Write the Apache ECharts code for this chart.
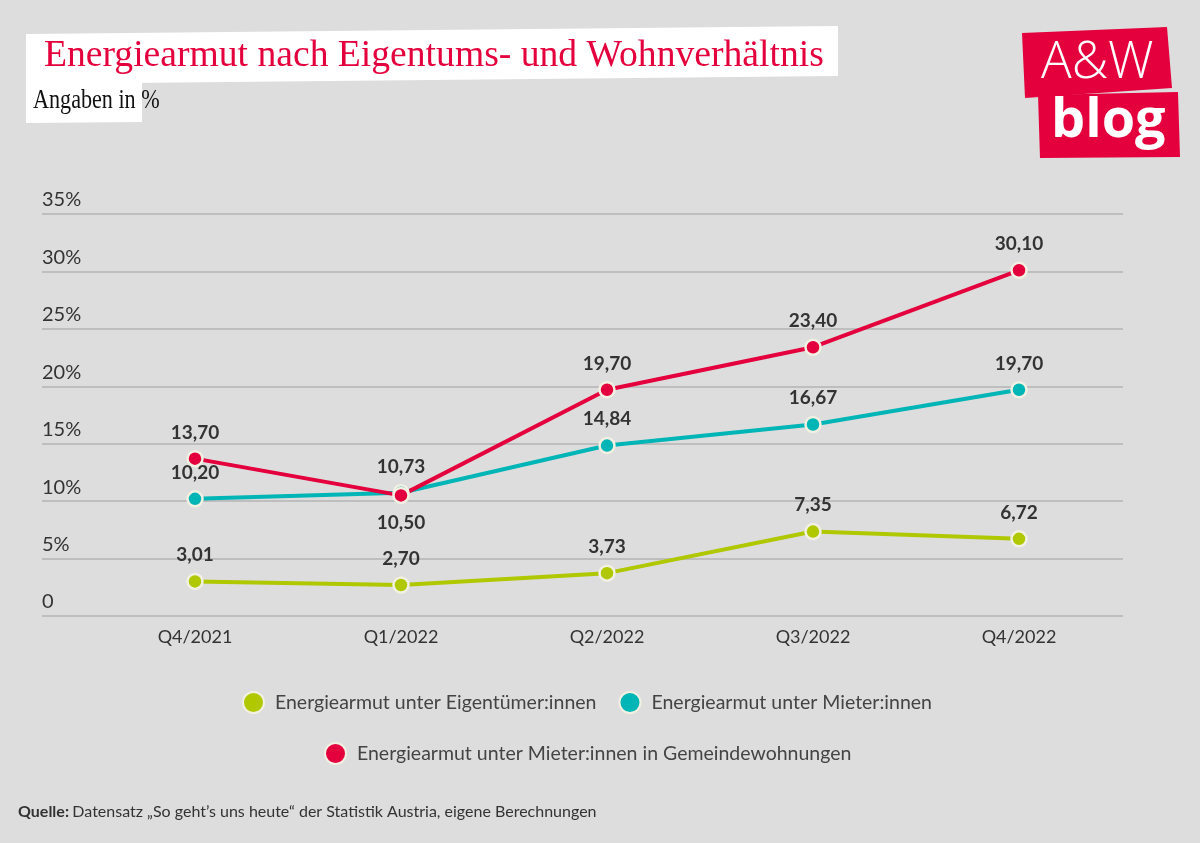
<!DOCTYPE html>
<html><head><meta charset="utf-8">
<script src="https://cdn.jsdelivr.net/npm/echarts@6/dist/echarts.min.js"></script>
<style>html,body{margin:0;padding:0;background:#dddddd}#c{width:1200px;height:843px}</style>
</head><body><div id="c"></div>
<script>
const categories = ['Q4/2021','Q1/2022','Q2/2022','Q3/2022','Q4/2022'];
const eigentuemer = [3.01, 2.70, 3.73, 7.35, 6.72];
const mieter = [10.20, 10.73, 14.84, 16.67, 19.70];
const gemeinde = [13.70, 10.50, 19.70, 23.40, 30.10];
const seriesNames = ['Energiearmut unter Eigentümer:innen','Energiearmut unter Mieter:innen','Energiearmut unter Mieter:innen in Gemeindewohnungen'];
const colors = ['#afc800','#00b5b5','#e4003c'];
const yTicks = {min:0, max:35, interval:5};

const fnt = 'Lato';
const chart = echarts.init(document.getElementById('c'), null, {renderer:'canvas'});
function fmt(v){return v.toFixed(2).replace('.',',');}
function mkSeries(name, data, color, belowIdx){
  return {
    name, type:'line', xAxisIndex:1, yAxisIndex:1,
    symbol:'circle', symbolSize:15, showSymbol:true,
    lineStyle:{color, width:4},
    itemStyle:{color, borderColor:'#f2f0e2', borderWidth:2.5},
    label:{show:true, position:'top', distance:8, fontFamily:fnt, fontWeight:'bold', fontSize:19, color:'#333',
      formatter:p=>fmt(p.value)},
    data: data.map((v,i)=> belowIdx===i ? {value:v, label:{position:'bottom', distance:9}} : v),
    z: 3
  };
}
const legendText = {fontFamily:fnt, fontSize:19.5, color:'#444', padding:[0,0,0,6]};
const option = {
  backgroundColor:'#dddddd',
  animation:false,
  grid:[
    {left:42, right:77, top:214, height:402, containLabel:false},
    {left:92, right:78, top:214, height:402, containLabel:false}
  ],
  xAxis:[
    {gridIndex:0, type:'value', show:false, min:0, max:1},
    {gridIndex:1, type:'category', data:categories, boundaryGap:true,
     axisLine:{show:false}, axisTick:{show:false},
     axisLabel:{fontFamily:fnt, fontSize:18, color:'#333', margin:12}}
  ],
  yAxis:[
    {gridIndex:0, type:'value', min:yTicks.min, max:yTicks.max, interval:yTicks.interval,
     axisLine:{show:false}, axisTick:{show:false},
     splitLine:{lineStyle:{color:'#b3b3b3', width:1.5}},
     axisLabel:{inside:true, align:'left', verticalAlign:'bottom', margin:0, padding:[0,0,4,0],
       fontFamily:fnt, fontSize:20, color:'#333', formatter:v=> v===0 ? '0' : v+'%'}},
    {gridIndex:1, type:'value', min:yTicks.min, max:yTicks.max, interval:yTicks.interval, show:false,
     splitLine:{show:false}}
  ],
  legend:[
    {data:[seriesNames[0], seriesNames[1]], left:237, top:686, icon:'circle', itemWidth:21, itemHeight:22, itemGap:22,
     textStyle:legendText},
    {data:[seriesNames[2]], left:319, top:737, icon:'circle', itemWidth:21, itemHeight:22,
     textStyle:legendText}
  ],
  series:[
    mkSeries(seriesNames[0], eigentuemer, colors[0], -1),
    mkSeries(seriesNames[1], mieter, colors[1], -1),
    mkSeries(seriesNames[2], gemeinde, colors[2], 1)
  ],
  graphic:[
    {type:'polygon', shape:{points:[[26,34],[838,26],[838,76],[26,84]]}, style:{fill:'#ffffff'}},
    {type:'polygon', shape:{points:[[26,82],[142,81],[142,122],[26,123]]}, style:{fill:'#ffffff'}},
    {type:'text', x:44, y:37, scaleX:0.99, style:{text:'Energiearmut nach Eigentums- und Wohnverhältnis', font:'38px "Liberation Serif"', fill:'#e4003c'}},
    {type:'text', x:33, y:87, scaleX:0.82, style:{text:'Angaben in %', font:'27px "Liberation Serif"', fill:'#111'}},
    {type:'polygon', shape:{points:[[1022,33],[1167,27],[1172,88],[1025,98]]}, style:{fill:'#e4003c'}},
    {type:'polygon', shape:{points:[[1038,95],[1178,92],[1180,157],[1040,158]]}, style:{fill:'#e4003c'}},
    {type:'text', left:1041, top:38, style:{text:'A&W', font:'300 51px "Open Sans"', fill:'#fff'}},
    {type:'text', left:1051, top:95, style:{text:'blog', font:'bold 54px "Open Sans"', fill:'#fff'}},
    {type:'text', left:18, top:804, style:{rich:{b:{fontFamily:fnt, fontWeight:'bold', fontSize:16, fill:'#333'}, r:{fontFamily:fnt, fontSize:16, fill:'#333'}},
      text:'{b|Quelle:} {r|Datensatz „So geht’s uns heute“ der Statistik Austria, eigene Berechnungen}'}}
  ]
};
chart.setOption(option);
</script></body></html>
